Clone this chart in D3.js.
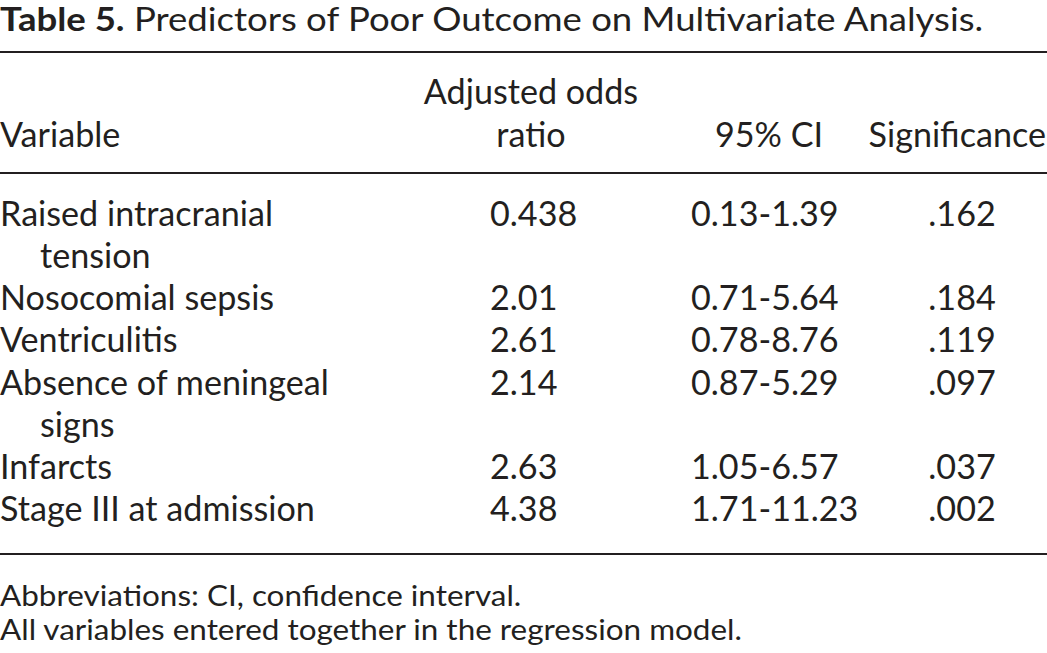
<!DOCTYPE html>
<html>
<head>
<meta charset="utf-8">
<script src="https://cdn.jsdelivr.net/npm/d3@7"></script>
<style>
  html, body { margin: 0; padding: 0; background: #fff; }
  svg { display: block; }
  text { fill: #231f20; font-family: Lato, "Open Sans", sans-serif; }
</style>
</head>
<body>
<div id="viz"></div>
<script>
// Table content
const titleLabel = "Table 5.";
const titleText = " Predictors of Poor Outcome on Multivariate Analysis.";
const headerLines = [
    ["Variable"],
    ["Adjusted odds", "ratio"],
    ["95% CI"],
    ["Significance"]
];
const variables = [
    ["Raised intracranial", "tension"],
    ["Nosocomial sepsis"],
    ["Ventriculitis"],
    ["Absence of meningeal", "signs"],
    ["Infarcts"],
    ["Stage III at admission"]
];
const oddsRatios = [0.438, 2.01, 2.61, 2.14, 2.63, 4.38];
const ciLower = [0.13, 0.71, 0.78, 0.87, 1.05, 1.71];
const ciUpper = [1.39, 5.64, 8.76, 5.29, 6.57, 11.23];
const significance = [0.162, 0.184, 0.119, 0.097, 0.037, 0.002];
const footnotes = [
    "Abbreviations: CI, confidence interval.",
    "All variables entered together in the regression model."
];

const W = 1047, H = 653;
const ink = "#231f20";

const svg = d3.select("#viz")
    .append("svg")
        .attr("width", W)
        .attr("height", H);

// measure a string at a given size / weight
function measure(str, size, weight) {
    const t = svg.append("text")
        .style("font-size", size + "px")
        .style("font-weight", weight || 400)
        .text(str);
    const w = t.node().getComputedTextLength();
    t.remove();
    return w;
}

// body font: cap height ~26px, squeezed to the narrow Gill Sans look
const bodySize = 35;
const bodySx = 315 / measure("Stage III at admission", bodySize);
const noteSize = 28.5;
const noteSx = 742 / measure(footnotes[1], noteSize);

// draw text at (x, y) with horizontal squeeze, anchored
function put(g, str, x, y, opts) {
    const o = Object.assign({ size: bodySize, sx: bodySx, anchor: "start" }, opts);
    return g.append("text")
        .attr("transform", `translate(${x},${y}) scale(${o.sx},1)`)
        .attr("text-anchor", o.anchor)
        .style("font-size", o.size + "px")
        .text(str);
}

const fmt2 = d3.format(".2f");
const fmtP = v => d3.format(".3f")(v).replace(/^0/, "");

// Title
const titleSize = 32;
const titleW = measure(titleLabel, titleSize, 700) + measure(titleText, titleSize);
const titleSx = 974 / titleW;
const title = svg.append("text")
    .attr("transform", `translate(0,31) scale(${titleSx},1)`)
    .style("font-size", titleSize + "px");
title.append("tspan").style("font-weight", 700).text(titleLabel);
title.append("tspan").text(titleText);

// Rules
const rules = svg.append("g");
[52, 173, 554].forEach(y => {
    rules.append("line")
        .attr("x1", 0).attr("x2", W)
        .attr("y1", y).attr("y2", y)
        .attr("stroke", ink)
        .attr("stroke-width", 2);
});

// Header (bottom aligned)
const header = svg.append("g");
const headX = [0, 531, 769, 1046];
const headAnchor = ["start", "middle", "middle", "end"];
headerLines.forEach((lines, c) => {
    lines.forEach((s, i) => {
        const y = 147 - (lines.length - 1 - i) * 43;
        put(header, s, headX[c], y, { anchor: headAnchor[c] });
    });
});

// Body rows: line index -> baseline
let lineIdx = 0;
const rowStart = variables.map(v => { const s = lineIdx; lineIdx += v.length; return s; });
const y = d3.scaleLinear()
    .domain([0, lineIdx - 1])
    .range([226, 521]);

const body = svg.append("g");
variables.forEach((lines, r) => {
    lines.forEach((s, i) => {
        put(body, s, i === 0 ? 0 : 40, y(rowStart[r] + i));
    });
    const by = y(rowStart[r]);
    put(body, String(oddsRatios[r]), 490, by);
    put(body, `${fmt2(ciLower[r])}-${fmt2(ciUpper[r])}`, 691, by);
    put(body, fmtP(significance[r]), 962, by, { anchor: "middle" });
});

// Footnotes
const notes = svg.append("g");
footnotes.forEach((s, i) => {
    put(notes, s, 0, 606 + i * 34, { size: noteSize, sx: noteSx });
});
</script>
</body>
</html>
